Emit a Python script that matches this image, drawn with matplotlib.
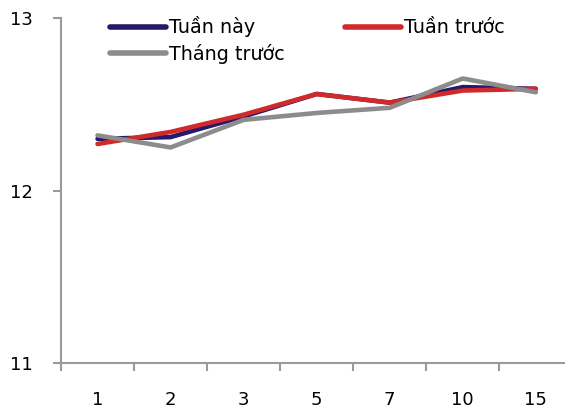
import numpy as np
import matplotlib
matplotlib.use("Agg")
import matplotlib.pyplot as plt
from matplotlib.ticker import FixedLocator

# Kỳ hạn (tuần / tháng) và lợi suất
terms = ["1", "2", "3", "5", "7", "10", "15"]
tuan_nay = [12.30, 12.31, 12.43, 12.56, 12.51, 12.60, 12.59]
tuan_truoc = [12.27, 12.34, 12.44, 12.56, 12.51, 12.58, 12.59]
thang_truoc = [12.32, 12.25, 12.41, 12.45, 12.48, 12.65, 12.57]

plt.rcParams['font.family'] = ['DejaVu Sans']

fig = plt.figure(figsize=(5.65, 4.12), dpi=100)
ax = fig.add_axes([0.108, 0.119, 0.905, 0.837])

x = np.arange(len(terms))
ax.plot(x, tuan_nay, color="#26196b", lw=3.3, solid_capstyle="round", label="Tuần này")
ax.plot(x, tuan_truoc, color="#d02a2a", lw=3.3, solid_capstyle="round", label="Tuần trước")
ax.plot(x, thang_truoc, color="#8c8c8c", lw=3.3, solid_capstyle="round", label="Tháng trước")

ax.set_xlim(-0.5, len(terms) - 0.5)
ax.set_ylim(11, 13)
ax.set_yticks([11, 12, 13])
ax.set_xticks(x)
ax.set_xticklabels(terms)
ax.xaxis.set_minor_locator(FixedLocator(np.arange(len(terms) + 1) - 0.5))
ax.tick_params(axis="x", which="major", length=0, pad=20, labelsize=13)
ax.tick_params(axis="x", which="minor", length=6, width=1.5, color="#9a9a9a", direction="out")
ax.tick_params(axis="y", length=6, width=1.5, color="#9a9a9a", pad=14, labelsize=13)

for s in ["top", "right"]:
    ax.spines[s].set_visible(False)
for s in ["left", "bottom"]:
    ax.spines[s].set_color("#9a9a9a")
    ax.spines[s].set_linewidth(1.5)

# legend: hai cột, Tuần này / Tháng trước bên trái
h, l = ax.get_legend_handles_labels()
order = [0, 2, 1]
leg = ax.legend([h[i] for i in order], [l[i] for i in order], ncol=2, frameon=False,
                loc="upper left", bbox_to_anchor=(0.063, 1.055), fontsize=13.8,
                handlelength=2.9, handletextpad=0.15, columnspacing=3.15, labelspacing=0.35)
for line in leg.get_lines():
    line.set_linewidth(4.0)

fig.savefig("out.png", dpi=100)
